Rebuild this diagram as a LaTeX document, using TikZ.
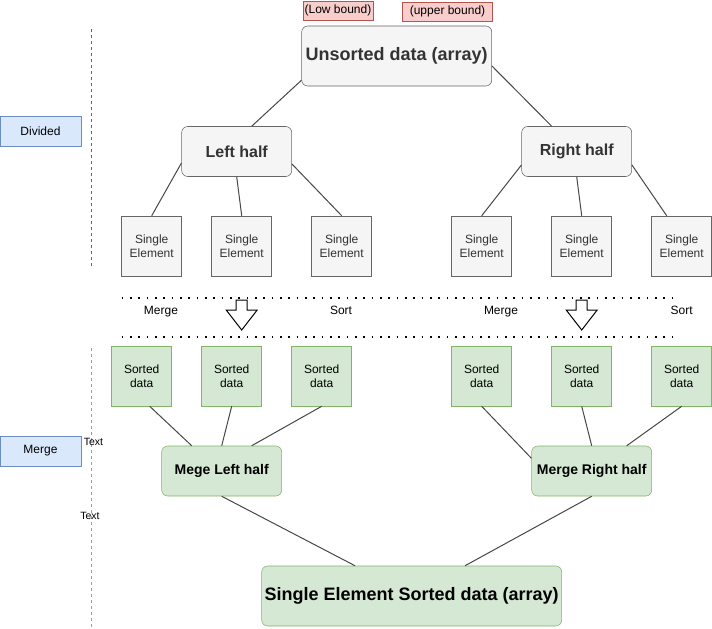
\documentclass[tikz,border=0pt]{standalone}
\usepackage{fontspec}
\setmainfont{Liberation Sans}
\usetikzlibrary{calc}

\definecolor{greyfill}{HTML}{F5F5F5}
\definecolor{greyline}{HTML}{666666}
\definecolor{greytext}{HTML}{333333}
\definecolor{greenfill}{HTML}{D5E8D4}
\definecolor{greenline}{HTML}{82B366}
\definecolor{bluefill}{HTML}{DAE8FC}
\definecolor{blueline}{HTML}{6C8EBF}
\definecolor{redfill}{HTML}{F8CECC}
\definecolor{redline}{HTML}{B85450}

\begin{document}
\begin{tikzpicture}[
    x=0.75pt,y=-0.75pt,
    every node/.style={inner sep=0pt,align=center},
    small/.style={font=\fontsize{9}{10.5}\selectfont},
    leaf/.style={small,draw=greyline,fill=greyfill,text=greytext,minimum width=45pt,minimum height=45pt},
    sorted/.style={small,draw=greenline,fill=greenfill,minimum width=45pt,minimum height=45pt},
    half/.style={draw=greyline,fill=greyfill,text=greytext,rounded corners=4.5pt,
      minimum width=82.5pt,minimum height=37.5pt,font=\bfseries\fontsize{12}{14}\selectfont},
    merged/.style={draw=greenline,fill=greenfill,rounded corners=4.5pt,
      minimum width=90pt,minimum height=37.5pt,font=\bfseries\fontsize{10.5}{12}\selectfont},
    side/.style={small,draw=blueline,fill=bluefill,minimum width=60.5pt,minimum height=22.5pt},
    bound/.style={small,draw=redline,fill=redfill,minimum height=14.25pt},
    link/.style={draw=black!72,line width=0.75pt},
    dots/.style={line width=1.3pt,dash pattern=on 1.3pt off 4.95pt},
    downarrow/.pic={\draw[line width=0.75pt] (-5.5,0) -- (5.5,0) -- (5.5,10) -- (15.5,10)
      -- (0,30) -- (-15.5,10) -- (-5.5,10) -- cycle;}]
  \useasboundingbox (0,0) rectangle (712,628);

  % bounds and root
  \node[bound,minimum width=52.5pt] (low) at (338,10.5) {(Low bound)};
  \node[bound,minimum width=67.5pt] (upper) at (447.5,11.5) {(upper bound)};
  \node[half,minimum width=142.5pt,minimum height=45pt,font=\bfseries\fontsize{13.5}{16}\selectfont]
    (unsorted) at (396.7,56) {Unsorted data (array)};

  % divide
  \node[half] (lh) at (236.7,151.5) {Left half};
  \node[half] (rh) at (576.7,151.5) {Right half};
  \node[leaf] (s1) at (151.7,246) {Single\\Element};
  \node[leaf] (s2) at (241.7,246) {Single\\Element};
  \node[leaf] (s3) at (341.7,246) {Single\\Element};
  \node[leaf] (s4) at (481.7,246) {Single\\Element};
  \node[leaf] (s5) at (581.7,246) {Single\\Element};
  \node[leaf] (s6) at (681.7,246) {Single\\Element};

  \draw[link] ($(unsorted.south west)+(0,-6)$) -- ($(lh.north)+(15,0)$);
  \draw[link] ($(unsorted.east)+(0,10)$) -- ($(rh.north)+(-25,0)$);
  \draw[link] ($(lh.west)+(0,11.5)$) -- (s1.north);
  \draw[link] (lh.south) -- (s2.north);
  \draw[link] ($(lh.east)+(0,12.5)$) -- (s3.north);
  \draw[link] ($(rh.west)+(0,13.5)$) -- (s4.north);
  \draw[link] (rh.south) -- (s5.north);
  \draw[link] ($(rh.east)+(0,13.5)$) -- ($(s6.north)+(-15,0)$);

  % middle band
  \draw[dots] (121.7,298) -- (680,298);
  \draw[dots] (121.7,337) -- (680,337);
  \node[small] (mg1) at (161,311.5) {Merge};
  \node[small] (st1) at (341,310) {Sort};
  \node[small] (mg2) at (501,311.5) {Merge};
  \node[small] (st2) at (681.7,310) {Sort};
  \pic at (241.7,300) {downarrow};
  \pic at (581.7,300) {downarrow};

  % merge
  \node[sorted] (d1) at (141.7,376) {Sorted\\data};
  \node[sorted] (d2) at (231.7,376) {Sorted\\data};
  \node[sorted] (d3) at (321.7,376) {Sorted\\data};
  \node[sorted] (d4) at (481.7,376) {Sorted\\data};
  \node[sorted] (d5) at (581.7,376) {Sorted\\data};
  \node[sorted] (d6) at (681.7,376) {Sorted\\data};
  \node[merged] (mlh) at (221.7,471) {Mege Left half};
  \node[merged] (mrh) at (591.7,471) {Merge Right half};
  \node[merged,minimum width=225pt,minimum height=45pt,font=\bfseries\fontsize{13.5}{16}\selectfont]
    (final) at (411.7,596) {Single Element Sorted data (array)};

  \draw[link] ($(d1.south)+(8,0)$) -- ($(mlh.north)+(-30,0)$);
  \draw[link] (d2.south) -- (mlh.north);
  \draw[link] (d3.south) -- ($(mlh.north)+(30,0)$);
  \draw[link] (d4.south) -- ($(mrh.west)+(0,-12.7)$);
  \draw[link] (d5.south) -- (mrh.north);
  \draw[link] (d6.south) -- ($(mrh.north)+(35,0)$);
  \draw[link] (mlh.south) -- ($(final.north)+(-56.7,0)$);
  \draw[link] (mrh.south) -- ($(final.north)+(53.3,0)$);

  % phases on the left
  \node[side] (divided) at (40.5,131.3) {Divided};
  \node[side] (merge) at (40.5,451) {Merge};
  \draw[greyline,line width=0.75pt,dash pattern=on 2.25pt off 2.25pt] (91.7,29) -- (91.7,267);
  \draw[greenline,line width=0.75pt,dash pattern=on 2.25pt off 2.25pt] (91.7,348) -- (91.7,628);
  \node[font=\fontsize{7.9}{9}\selectfont] (t1) at (93.5,442) {Text};
  \node[font=\fontsize{7.9}{9}\selectfont] (t2) at (90,516) {Text};
\end{tikzpicture}
\end{document}
